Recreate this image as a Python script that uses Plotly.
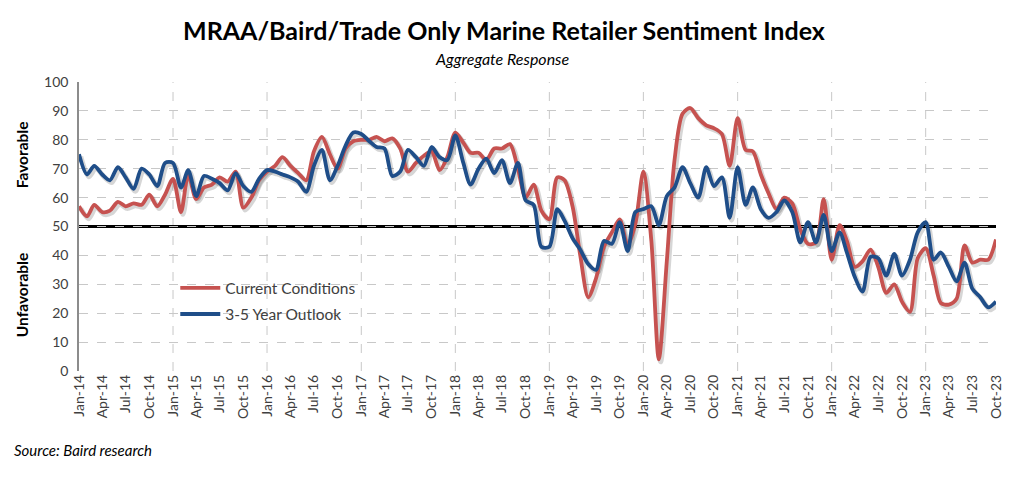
import pandas as pd
import plotly.graph_objects as go

start_month = "2014-01-01"
n_months = 118
dates = pd.date_range(start_month, periods=n_months, freq="MS")

current_conditions = [
    57, 53.5, 57.5, 55, 55.5, 58.5, 57, 58, 57.5, 61, 57, 61,          # 2014
    66.5, 55, 68, 59.5, 63.5, 64.5, 67, 65.5, 69, 56.5, 60, 66,        # 2015
    69, 71, 74, 71, 68.5, 66, 76, 81, 75, 70, 77, 79.5,                # 2016
    80, 80, 81, 79.5, 80.5, 77, 69, 72, 74.5, 76, 69.5, 74,            # 2017
    82.5, 79, 75.5, 75.5, 73, 77, 77, 78.5, 70, 60, 64.5, 55.5,        # 2018
    52.5, 67, 66, 57, 40, 25.5, 32, 43, 48, 52.5, 43.5, 51,            # 2019
    69, 45, 4, 38, 73, 89, 91, 87.5, 85, 84, 82, 71,                   # 2020
    87.5, 76.5, 76, 68, 61.5, 56, 60, 58, 49, 44, 44.5, 59.5,          # 2021
    38.5, 50.5, 45, 36, 38, 42, 36, 27, 30, 24, 20.5, 39,              # 2022
    42.5, 33, 23.5, 23, 25, 43.5, 37.5, 38.5, 38.5, 45.5,              # 2023
]
outlook_3_5_year = [
    75, 68, 71, 68, 66, 70.5, 67, 63, 70, 68, 64, 72,                  # 2014
    72, 63.5, 69.5, 60.5, 67.5, 66.5, 65, 62.5, 68.5, 64, 62, 66.5,    # 2015
    69.5, 69, 68, 67, 65.5, 62, 71, 76.5, 66, 71, 78, 82.5,            # 2016
    82, 79.5, 77.5, 77, 67.5, 69, 76.5, 74, 71, 77.5, 74, 73,          # 2017
    81.5, 72, 64.5, 70, 73.5, 68.5, 73, 65, 72, 59, 57.5, 43,          # 2018
    43, 56, 52, 46, 42, 37, 35, 45, 44, 51.5, 41.5, 55,                # 2019
    56, 57, 50.5, 60.5, 63.5, 70.5, 65, 60, 70.5, 64, 67, 53,          # 2020
    70.5, 57.5, 63.5, 56, 53, 55, 59, 55, 44.5, 51.5, 44.5, 54,        # 2021
    41.5, 48, 41, 32.5, 27.5, 39.5, 39, 33, 40.5, 33, 38.5, 48,        # 2022
    51.5, 38.5, 41, 36, 31, 37.5, 28.5, 25.5, 22, 24,                  # 2023
]
series_names = ["Current Conditions", "3-5 Year Outlook"]
series_colors = ["#c65250", "#1f4e89"]
neutral_level = 50
january_years = list(range(2015, 2024))

title_text = "MRAA/Baird/Trade Only Marine Retailer Sentiment Index"
subtitle_text = "Aggregate Response"
source_text = "Source: Baird research"

FONT = "Lato, 'Open Sans', sans-serif"

fig = go.Figure()

shadow_dates = dates + pd.Timedelta(days=7)
for vals in [current_conditions, outlook_3_5_year]:
    fig.add_trace(go.Scatter(
        x=shadow_dates, y=[v - 0.8 for v in vals], mode="lines",
        line=dict(color="rgba(0,0,0,0.16)", width=5, shape="spline", smoothing=0.8),
        hoverinfo="skip", showlegend=False,
    ))

for name, vals, col in zip(series_names, [current_conditions, outlook_3_5_year], series_colors):
    fig.add_trace(go.Scatter(
        x=dates, y=vals, mode="lines", name=name, legendgroup=name,
        line=dict(color=col, width=3.8, shape="spline", smoothing=0.8),
    ))

shapes = []
for yr in january_years:
    shapes.append(dict(
        type="line", xref="x", yref="paper", x0=f"{yr}-01-01", x1=f"{yr}-01-01",
        y0=0, y1=1, line=dict(color="#c8c8c8", width=1, dash="dash"), layer="below",
    ))
shapes.append(dict(
    type="line", xref="paper", yref="y", x0=0, x1=1, y0=neutral_level, y1=neutral_level,
    line=dict(color="black", width=3), layer="between",
))

annotations = [
    dict(text=f"<b>{title_text}</b>", xref="paper", yref="paper", x=0.463, y=1.18,
         xanchor="center", yanchor="middle", showarrow=False,
         font=dict(family=FONT, size=25, color="#000000")),
    dict(text=f"<i>{subtitle_text}</i>", xref="paper", yref="paper", x=0.462, y=1.083,
         xanchor="center", yanchor="middle", showarrow=False,
         font=dict(family=FONT, size=16, color="#000000")),
    dict(text="<b>Favorable</b>", xref="paper", yref="paper", x=-0.062, y=0.747,
         xanchor="center", yanchor="middle", showarrow=False, textangle=-90,
         font=dict(family=FONT, size=15.5, color="#000000")),
    dict(text="<b>Unfavorable</b>", xref="paper", yref="paper", x=-0.062, y=0.263,
         xanchor="center", yanchor="middle", showarrow=False, textangle=-90,
         font=dict(family=FONT, size=15.5, color="#000000")),
    dict(text=f"<i>{source_text}</i>", xref="paper", yref="paper", x=-0.0727, y=-0.273,
         xanchor="left", yanchor="middle", showarrow=False,
         font=dict(family=FONT, size=15, color="#000000")),
]

fig.update_layout(
    width=1008, height=463,
    margin=dict(l=71, r=15, t=74, b=100),
    paper_bgcolor="white", plot_bgcolor="white",
    font=dict(family=FONT, size=12, color="#404040"),
    shapes=shapes, annotations=annotations,
    showlegend=True,
    legend=dict(x=0.105, y=0.345, xanchor="left", yanchor="top",
                bgcolor="rgba(255,255,255,0)", font=dict(family=FONT, size=15.5, color="#404040"),
                tracegroupgap=3, itemwidth=40),
    xaxis=dict(
        range=[dates[0], dates[-1]], type="date",
        tick0=start_month, dtick="M3", tickformat="%b-%y", tickangle=-90,
        showgrid=False, zeroline=False, showline=False, ticks="",
        tickfont=dict(family=FONT, size=14, color="#404040"),
    ),
    yaxis=dict(
        range=[0, 100], dtick=10, showgrid=True, gridcolor="#c8c8c8", griddash="dash",
        gridwidth=1, zeroline=False, showline=True, linecolor="#8c8c8c", linewidth=1.5,
        ticks="", ticklabelstandoff=6, tickfont=dict(family=FONT, size=14, color="#404040"),
    ),
)

fig.write_html("out.html")
